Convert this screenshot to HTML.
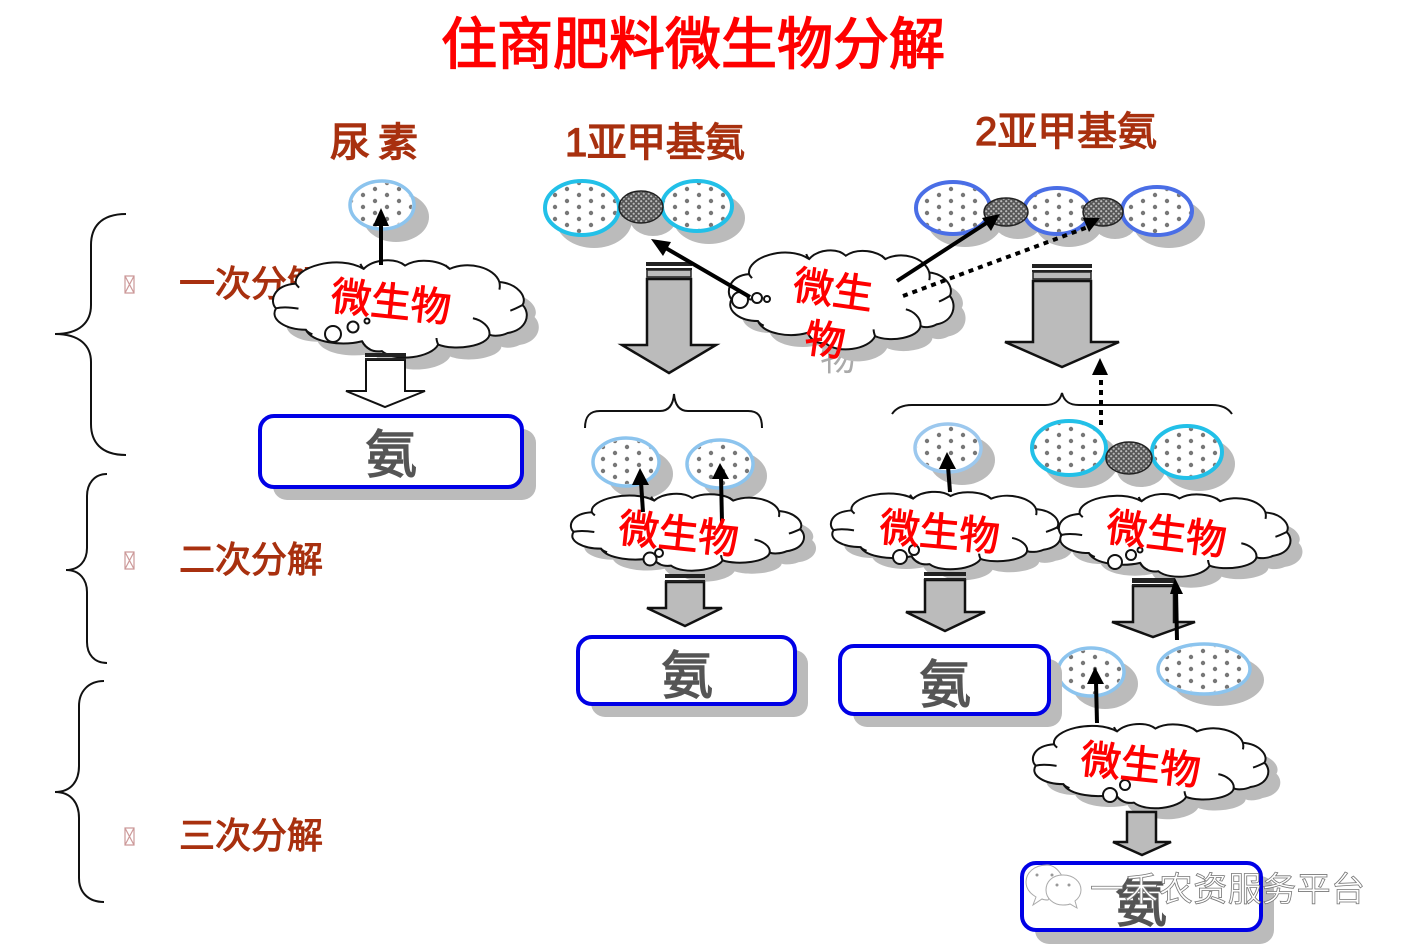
<!DOCTYPE html>
<html><head><meta charset="utf-8">
<style>
html,body{margin:0;padding:0;background:#fff}
svg{display:block;filter:blur(.35px)}
text{font-family:"Liberation Sans","Noto Sans CJK SC",sans-serif}
.t{fill:#a8300f;stroke:#a8300f;stroke-width:1}
.c{fill:#f00;stroke:#f00;stroke-width:1;font-size:40px}
.a{fill:#555;stroke:#555;stroke-width:1.4;font-size:52px;text-anchor:middle}
.cl{fill:#fff;stroke:#111;stroke-width:2}
.cs{fill:#bbb;stroke:none}
.in{fill:none;stroke:#111;stroke-width:2}
.b{fill:#fff;stroke:#111;stroke-width:2}
.br{fill:none;stroke:#111;stroke-width:2}
.ar{stroke:#000;stroke-width:4;fill:none}
.ah{fill:#000;stroke:none}
.bx{fill:#fff;stroke:#0000e6;stroke-width:4}
.sh{fill:#bbb}
.ba{fill:#bbb;stroke:#111;stroke-width:2.5}
.st{fill:#222}
</style></head><body>
<svg width="1414" height="952" viewBox="0 0 1414 952" xmlns="http://www.w3.org/2000/svg">
<defs>
<pattern id="d" width="24" height="12" patternUnits="userSpaceOnUse"><circle cx="3" cy="3" r="2.2" fill="#777"/><circle cx="15" cy="9" r="2.2" fill="#777"/></pattern>
<pattern id="k" width="5" height="5" patternUnits="userSpaceOnUse"><rect width="5" height="5" fill="#555"/><circle cx="1.2" cy="1.2" r="1.1" fill="#bbb"/><circle cx="3.7" cy="3.7" r="1.1" fill="#bbb"/></pattern>
<path id="cp" vector-effect="non-scaling-stroke" transform="translate(-68,-262)" d="M140 340C130 290 270 250 345 295C375 265 440 260 470 285C510 260 580 270 605 295C660 270 740 290 755 335C810 340 840 380 825 405C850 430 840 480 780 490C760 500 735 500 725 495C720 530 620 545 570 525C550 565 440 580 400 545C370 550 350 535 340 515C280 530 190 520 170 480C110 480 60 450 80 415C60 395 70 345 140 340Z"/>
<path id="ci" vector-effect="non-scaling-stroke" transform="translate(-68,-262)" d="M80 415C100 410 125 412 148 416M140 340C142 345 146 348 150 352M345 295C340 290 337 285 335 280M605 295C600 292 596 288 592 284M755 335C757 345 757 350 755 358M825 405C812 412 800 418 788 422M725 495C728 470 700 450 675 445M570 525C567 518 565 512 565 505M340 515C345 525 355 535 365 540M170 480C175 487 180 490 190 494"/>
</defs>

<!-- title -->
<text x="441" y="64" font-size="56" fill="#f00" stroke="#f00" stroke-width="1.5" textLength="504">住商肥料微生物分解</text>
<text class="t" x="330" y="156" font-size="40" stroke-width="1.4" style="stroke-width:1.4" textLength="88">尿 素</text>
<text class="t" x="565" y="156" font-size="40" style="stroke-width:1.2" textLength="180">1亚甲基氨</text>
<text class="t" x="975" y="145" font-size="40" style="stroke-width:1.2" textLength="182">2亚甲基氨</text>

<!-- left labels -->
<text class="t" x="179" y="296" font-size="36">一次分解</text>
<text class="t" x="179" y="572" font-size="36">二次分解</text>
<text class="t" x="179" y="848" font-size="36">三次分解</text>
<g fill="none" stroke="#c99" stroke-width="1.2">
<path d="M125 276h9v17h-9zM125 276l9 17M134 276l-9 17"/>
<path d="M125 552h9v17h-9zM125 552l9 17M134 552l-9 17"/>
<path d="M125 828h9v17h-9zM125 828l9 17M134 828l-9 17"/>
</g>

<!-- braces -->
<path class="br" d="M126 214C100 214 91 228 91 245L91 305C91 322 80 334 55 334C80 334 91 346 91 362L91 424C91 441 100 455 126 455"/>
<path class="br" d="M107 474C94 474 87 484 87 496L87 548C87 560 80 570 66 570C80 570 87 580 87 592L87 642C87 654 94 663 107 663"/>
<path class="br" d="M104 681C88 681 79 692 79 706L79 766C79 780 72 792 55 792C72 792 79 804 79 818L79 878C79 892 88 902 104 902"/>
<path class="br" d="M585 428C585 416 590 411 600 411L660 411C668 411 673 406 674 394C675 406 680 411 688 411L748 411C758 411 762 416 762 428"/>
<path class="br" d="M892 414C896 408 902 405 912 405L1045 405C1055 405 1060 401 1062 393C1064 401 1069 405 1079 405L1212 405C1222 405 1228 408 1232 414"/>

<!-- ellipse shadows -->
<g class="sh">
<ellipse cx="396" cy="217" rx="33" ry="25"/>
<ellipse cx="594" cy="220" rx="38" ry="28"/><ellipse cx="653" cy="219" rx="23" ry="17"/><ellipse cx="709" cy="218" rx="36" ry="26"/>
<ellipse cx="965" cy="220" rx="38" ry="27"/><ellipse cx="1018" cy="224" rx="23" ry="15"/><ellipse cx="1069" cy="223" rx="34" ry="24"/><ellipse cx="1115" cy="224" rx="21" ry="15"/><ellipse cx="1169" cy="223" rx="36" ry="25"/>
<ellipse cx="640" cy="474" rx="33" ry="25"/><ellipse cx="734" cy="476" rx="33" ry="25"/>
<ellipse cx="962" cy="460" rx="33" ry="25"/>
<ellipse cx="1081" cy="460" rx="38" ry="28"/><ellipse cx="1141" cy="470" rx="24" ry="17"/><ellipse cx="1199" cy="464" rx="36" ry="27"/>
<ellipse cx="1105" cy="684" rx="33" ry="25"/><ellipse cx="1218" cy="680" rx="46" ry="26"/>
</g>

<!-- ellipses -->
<g fill="#fff">
<ellipse cx="382" cy="205" rx="32" ry="24" stroke="#8cc4ee" stroke-width="3.5"/>
<ellipse cx="582" cy="208" rx="37" ry="27" stroke="#22c0e8" stroke-width="4"/>
<ellipse cx="697" cy="206" rx="35" ry="25" stroke="#22c0e8" stroke-width="4"/>
<ellipse cx="953" cy="208" rx="37" ry="26" stroke="#4a6ee6" stroke-width="4"/>
<ellipse cx="1057" cy="211" rx="33" ry="23" stroke="#4a6ee6" stroke-width="4"/>
<ellipse cx="1157" cy="211" rx="35" ry="24" stroke="#4a6ee6" stroke-width="4"/>
<ellipse cx="626" cy="462" rx="33" ry="24" stroke="#8cc4ee" stroke-width="3.5"/>
<ellipse cx="720" cy="464" rx="33" ry="24" stroke="#8cc4ee" stroke-width="3.5"/>
<ellipse cx="948" cy="448" rx="33" ry="24" stroke="#9cc8ee" stroke-width="3.5"/>
<ellipse cx="1069" cy="448" rx="37" ry="27" stroke="#22c0e8" stroke-width="4"/>
<ellipse cx="1187" cy="452" rx="35" ry="26" stroke="#22c0e8" stroke-width="4"/>
<ellipse cx="1091" cy="672" rx="33" ry="24" stroke="#8cc4ee" stroke-width="3.5"/>
<ellipse cx="1204" cy="669" rx="46" ry="25" stroke="#8cc4ee" stroke-width="3.5"/>
</g>
<g fill="url(#d)">
<ellipse cx="382" cy="205" rx="30" ry="22"/><ellipse cx="582" cy="208" rx="35" ry="25"/><ellipse cx="697" cy="206" rx="33" ry="23"/>
<ellipse cx="953" cy="208" rx="35" ry="24"/><ellipse cx="1057" cy="211" rx="31" ry="21"/><ellipse cx="1157" cy="211" rx="33" ry="22"/>
<ellipse cx="626" cy="462" rx="31" ry="22"/><ellipse cx="720" cy="464" rx="31" ry="22"/><ellipse cx="948" cy="448" rx="31" ry="22"/>
<ellipse cx="1069" cy="448" rx="35" ry="25"/><ellipse cx="1187" cy="452" rx="33" ry="24"/>
<ellipse cx="1091" cy="672" rx="31" ry="22"/><ellipse cx="1204" cy="669" rx="44" ry="23"/>
</g>
<g fill="url(#k)" stroke="#222" stroke-width="1.5">
<ellipse cx="641" cy="207" rx="22" ry="16"/>
<ellipse cx="1006" cy="212" rx="22" ry="14"/>
<ellipse cx="1103" cy="212" rx="20" ry="14"/>
<ellipse cx="1129" cy="458" rx="23" ry="16"/>
</g>

<!-- big block arrows -->
<g>
<path class="ba" d="M647 279H691V345H716L669 373L622 345H647Z"/>
<path class="st" d="M646 262h46v4h-46zM646 268h46v2h-46z"/><rect x="647" y="270" width="44" height="7" fill="#bbb" stroke="#222" stroke-width="1.5"/>
<path class="ba" d="M1033 281H1091V342H1119L1062 367L1005 342H1033Z"/>
<path class="st" d="M1032 264h60v4h-60zM1032 270h60v2h-60z"/><rect x="1033" y="272" width="58" height="7" fill="#bbb" stroke="#222" stroke-width="1.5"/>
</g>

<!-- clouds 1, mid -->
<g transform="translate(284,270) scale(.331,.329)"><use href="#cp" class="cs"/></g>
<text x="838" y="370" font-size="36" fill="#aaa" text-anchor="middle">物</text>
<g transform="translate(740,260) scale(.293,.335)"><use href="#cp" class="cs"/></g>
<g transform="translate(272,258) scale(.331,.329)"><use href="#cp" class="cl"/><use href="#ci" class="in"/></g>
<g transform="translate(728,248) scale(.293,.335)"><use href="#cp" class="cl"/><use href="#ci" class="in"/></g>

<!-- lower clouds -->
<g transform="translate(582,503) scale(.304,.26)"><use href="#cp" class="cs"/></g>
<g transform="translate(842,501) scale(.3,.262)"><use href="#cp" class="cs"/></g>
<g transform="translate(1070,503) scale(.302,.28)"><use href="#cp" class="cs"/></g>
<g transform="translate(1044,733) scale(.307,.285)"><use href="#cp" class="cs"/></g>
<g transform="translate(570,492) scale(.304,.26)"><use href="#cp" class="cl"/><use href="#ci" class="in"/></g>
<g transform="translate(830,490) scale(.3,.262)"><use href="#cp" class="cl"/><use href="#ci" class="in"/></g>
<g transform="translate(1058,492) scale(.302,.28)"><use href="#cp" class="cl"/><use href="#ci" class="in"/></g>
<g transform="translate(1032,722) scale(.307,.285)"><use href="#cp" class="cl"/><use href="#ci" class="in"/></g>

<!-- thought bubbles -->
<g class="b" stroke-width="1.6">
<circle cx="333" cy="334" r="8"/><circle cx="353" cy="327" r="5.5"/><circle cx="367" cy="321" r="2.5"/>
<circle cx="740" cy="300" r="8"/><circle cx="757" cy="298" r="5"/><circle cx="767" cy="299" r="3"/>
<circle cx="650" cy="559" r="6.5"/><circle cx="659" cy="553" r="4"/>
<circle cx="900" cy="557" r="7"/><circle cx="914" cy="550" r="5"/>
<circle cx="1115" cy="562" r="7"/><circle cx="1131" cy="555" r="5"/><circle cx="1140" cy="550" r="2.5"/>
<circle cx="1110" cy="795" r="7"/><circle cx="1125" cy="785" r="5"/>
</g>

<!-- small block arrows -->
<path class="b" d="M366 360H405V391H425L385 407L346 391H366Z"/>
<path class="st" d="M365 353h41v4h-41zM365 358h41v2h-41z"/>
<path class="ba" d="M666 582H704V608H722L685 626L647 608H666Z" stroke-width="2"/>
<path class="st" d="M665 574h40v4h-40zM665 580h40v2h-40z"/>
<path class="ba" d="M925 580H965V612H985L945 631L906 612H925Z" stroke-width="2"/>
<path class="st" d="M924 572h42v4h-42zM924 578h42v2h-42z"/>
<path class="ba" d="M1133 586H1174V622H1195L1153 637L1112 622H1133Z" stroke-width="2"/>
<path class="st" d="M1132 578h43v5h-43zM1132 584h43v2h-43z"/>
<path class="ba" d="M1127 812H1156V842H1171L1142 855L1113 842H1127Z" stroke-width="2"/>

<!-- boxes -->
<rect class="sh" x="273" y="429" width="263" height="71" rx="14"/>
<rect class="sh" x="591" y="650" width="217" height="67" rx="14"/>
<rect class="sh" x="853" y="659" width="209" height="68" rx="14"/>
<rect class="sh" x="1035" y="876" width="239" height="68" rx="14"/>
<rect class="bx" x="260" y="416" width="262" height="71" rx="14"/>
<rect class="bx" x="578" y="637" width="217" height="67" rx="14"/>
<rect class="bx" x="840" y="646" width="209" height="68" rx="14"/>
<rect class="bx" x="1022" y="863" width="239" height="67" rx="14"/>
<text class="a" x="391" y="473">氨</text>
<text class="a" x="687" y="694">氨</text>
<text class="a" x="945" y="703">氨</text>
<text class="a" x="1141" y="922">氨</text>

<!-- arrows -->
<path class="ar" d="M381 265V222"/><path class="ah" d="M381 208L389 226H373Z"/>
<path class="ar" d="M750 297L664 247"/><path class="ah" d="M651 239L671 242L663 256Z"/>
<path class="ar" d="M897 281L988 222"/><path class="ah" d="M1000 214L991 231L982 218Z"/>
<path d="M903 296L1088 227" stroke="#000" stroke-width="4" stroke-dasharray="5 5" fill="none"/><path class="ah" d="M1100 218L1089 232L1083 218Z"/>
<path d="M1101 425V372" stroke="#000" stroke-width="4" stroke-dasharray="5 5" fill="none"/><path class="ah" d="M1100 358L1108 375H1092Z"/>
<path class="ar" d="M643 512L641 482"/><path class="ah" d="M640 468L649 485H632Z"/>
<path class="ar" d="M722 522L721 477"/><path class="ah" d="M720 463L729 479H712Z"/>
<path class="ar" d="M950 492L948 466"/><path class="ah" d="M947 452L956 469H939Z"/>
<path class="ar" d="M1177 640L1176 590"/><path class="ah" d="M1175 578L1183 594H1170Z"/>
<path class="ar" d="M1097 723L1096 682"/><path class="ah" d="M1095 667L1104 684H1087Z"/>

<!-- cloud labels -->
<text class="c" x="331" y="316" transform="rotate(6 391 302)">微生物</text>
<text class="c" x="793" y="304" transform="rotate(8 833 292)">微生</text>
<text class="c" x="805" y="354" transform="rotate(8 825 340)">物</text>
<text class="c" x="619" y="548" transform="rotate(6 679 530)">微生物</text>
<text class="c" x="880" y="546" transform="rotate(5 940 528)">微生物</text>
<text class="c" x="1107" y="548" transform="rotate(7 1167 530)">微生物</text>
<text class="c" x="1081" y="779" transform="rotate(6 1141 761)">微生物</text>

<!-- watermark -->
<g fill="#fff" stroke="#aaa" stroke-width="1">
<path d="M1047 865C1034 865 1026 873 1026 882C1026 889 1031 894 1036 897L1033 905L1042 899C1044 900 1046 900 1048 900L1062 876C1058 869 1053 865 1047 865Z"/>
<path d="M1063 875C1052 875 1046 882 1046 890C1046 898 1053 905 1063 905C1066 905 1068 905 1070 904L1077 908L1075 901C1079 898 1081 894 1081 890C1081 882 1074 875 1063 875Z"/>
</g>
<g fill="#999"><circle cx="1037" cy="875" r="1.5"/><circle cx="1052" cy="875" r="1.5"/><circle cx="1057" cy="885" r="1.5"/><circle cx="1069" cy="885" r="1.5"/></g>
<text x="1090" y="901" font-size="34" fill="#fff" stroke="#777" stroke-width=".8" textLength="275">一禾农资服务平台</text>
</svg>
</body></html>
